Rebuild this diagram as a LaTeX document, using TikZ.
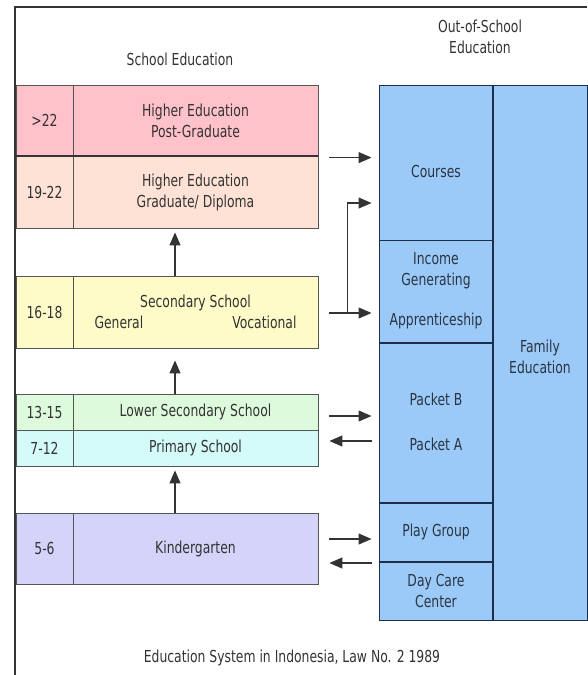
\documentclass[tikz,border=0pt]{standalone}
\usepackage{fontspec}
\setmainfont{DejaVu Sans}[FakeStretch=0.75]
\usetikzlibrary{arrows.meta}
\definecolor{pgpink}{HTML}{FFC2CA}
\definecolor{gradpeach}{HTML}{FFE2D6}
\definecolor{secyellow}{HTML}{FFFBC8}
\definecolor{lsecgreen}{HTML}{DDFADD}
\definecolor{primcyan}{HTML}{D4FAFA}
\definecolor{kglavender}{HTML}{D4D4FA}
\definecolor{oosblue}{HTML}{9CCAF8}
\definecolor{oosline}{HTML}{1E2E48}
\definecolor{oostext}{HTML}{2A3442}
\definecolor{boxgray}{HTML}{555555}
\definecolor{inkgray}{HTML}{333333}
\begin{document}
\begin{tikzpicture}[x=1pt,y=-1pt,
  txt/.style={font=\fontsize{16.5}{21}\selectfont, align=center, text=inkgray},
  agebox/.style={txt, draw=boxgray, line width=0.8pt, minimum width=57pt, inner sep=0pt},
  levelbox/.style={txt, draw=boxgray, line width=0.8pt, minimum width=245pt, inner sep=0pt},
  oosbox/.style={txt, draw=oosline, fill=oosblue, line width=1pt, minimum width=114pt, inner sep=0pt, text=oostext},
  sepline/.style={draw=oosline, line width=2pt},
  arr/.style={-{Triangle[length=13pt,width=11pt]}, line width=1.2pt, draw=inkgray},
]
\useasboundingbox (0,0) rectangle (587,675);
\draw[line width=1.2pt, draw=inkgray] (15,675) -- (15,7) -- (587,7);

% headings
\node[txt] (school) at (180,59) {School Education};
\node[txt] (oos) at (480,37) {Out-of-School\\Education};

% school education
\node[agebox, fill=pgpink, minimum height=71pt] (pgage) at (44.5,120.5) {>22};
\node[levelbox, fill=pgpink, minimum height=71pt] (pg) at (195.5,120.5) {Higher Education\\Post-Graduate};
\node[agebox, fill=gradpeach, minimum height=72pt] (gradage) at (44.5,192) {19-22};
\node[levelbox, fill=gradpeach, minimum height=72pt] (grad) at (195.5,192) {Higher Education\\Graduate/ Diploma};
\draw[line width=2pt, draw=inkgray] (pgage.south west) -- (pg.south east);
\node[agebox, fill=secyellow, minimum height=72pt] (secage) at (44.5,312) {16-18};
\node[levelbox, fill=secyellow, minimum height=72pt] (sec) at (195.5,312) {Secondary School\\\makebox[202pt]{General\hfill Vocational}};
\node[agebox, fill=lsecgreen, minimum height=36pt] (lsecage) at (44.5,412) {13-15};
\node[levelbox, fill=lsecgreen, minimum height=36pt] (lsec) at (195.5,412) {Lower Secondary School};
\node[agebox, fill=primcyan, minimum height=36pt] (primage) at (44.5,448) {7-12};
\node[levelbox, fill=primcyan, minimum height=36pt] (prim) at (195.5,448) {Primary School};
\node[agebox, fill=kglavender, minimum height=71pt] (kgage) at (44.5,548.5) {5-6};
\node[levelbox, fill=kglavender, minimum height=71pt] (kg) at (195.5,548.5) {Kindergarten};

% out-of-school education
\node[oosbox, minimum height=155pt, text height=30pt] (courses) at (436,162.5) {Courses};
\node[oosbox, minimum height=102pt] (income) at (436,291) {Income\\Generating\\[19pt]Apprenticeship};
\node[oosbox, minimum height=160pt] (packet) at (436,422) {Packet B\\[24pt]Packet A};
\node[oosbox, minimum height=59pt] (play) at (436,531.5) {Play Group};
\node[oosbox, minimum height=59pt] (day) at (436,590.5) {Day Care\\Center};
\node[oosbox, minimum width=94pt, minimum height=535pt, text height=43pt] (family) at (540,352.5) {Family\\Education};
\draw[sepline] (income.south west) -- (income.south east);
\draw[sepline] (packet.south west) -- (packet.south east);
\draw[sepline] (play.south west) -- (play.south east);
\draw[sepline] (family.north west) -- (family.south west);

% arrows
\draw[arr] ([xshift=-20.5pt]sec.north) -- ([shift={(-20.5,4)}]grad.south);
\draw[arr] ([xshift=-20.5pt]lsec.north) -- ([shift={(-20.5,12)}]sec.south);
\draw[arr] ([xshift=-20.5pt]kg.north) -- ([shift={(-20.5,4)}]prim.south);
\draw[arr] ([shift={(11,2)}]grad.north east) -- ([shift={(-7,2)}]grad.north east -| courses.west);
\draw[arr] ([shift={(11,1)}]sec.east) -- ([shift={(-7,1)}]sec.east -| income.west);
\draw[arr] ([shift={(29,1)}]sec.east) |- ([shift={(-7,11)}]courses.west |- grad.center);
\draw[arr] ([shift={(11,4)}]lsec.east) -- ([shift={(-7,4)}]lsec.east -| packet.west);
\draw[arr] ([shift={(-7,-7)}]prim.east -| packet.west) -- ([shift={(11,-7)}]prim.east);
\draw[arr] ([shift={(11,-9.5)}]kg.east) -- ([shift={(-7,-9.5)}]kg.east -| play.west);
\draw[arr] ([shift={(-7,14.5)}]kg.east -| day.west) -- ([shift={(11,14.5)}]kg.east);

\node[txt] (caption) at (292,658) {Education System in Indonesia, Law No. 2 1989};
\end{tikzpicture}
\end{document}
